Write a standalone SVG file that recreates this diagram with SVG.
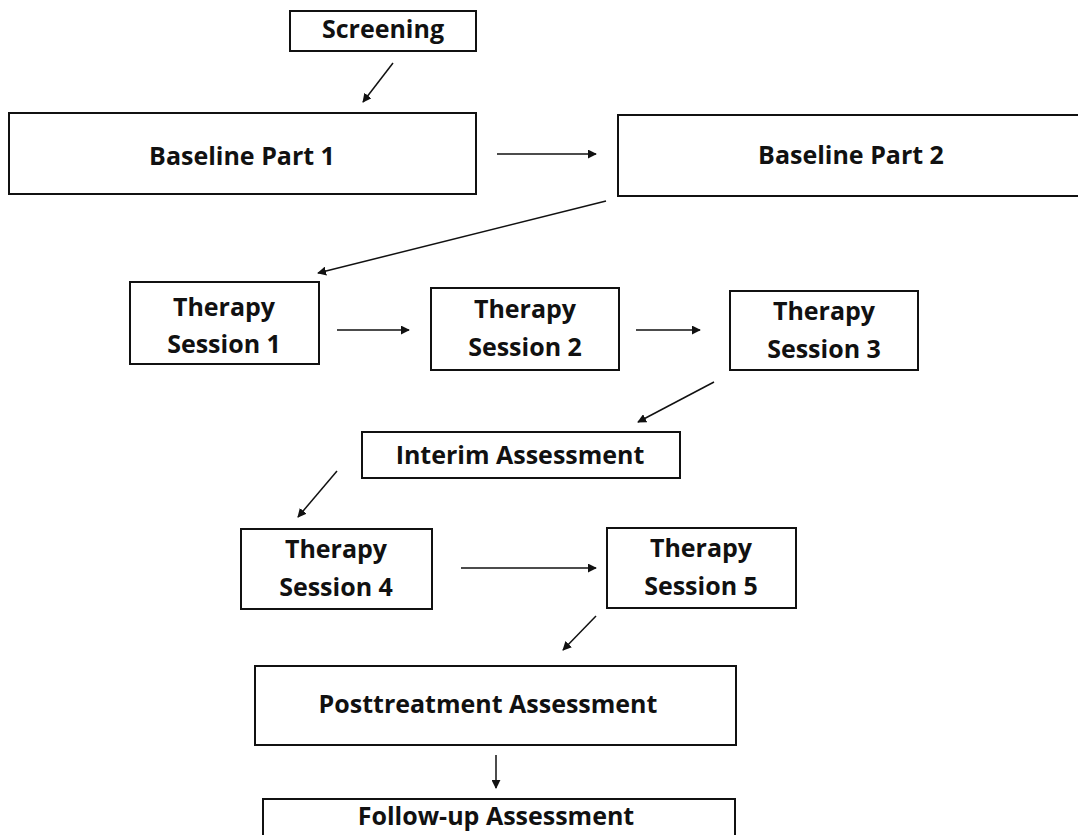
<svg xmlns="http://www.w3.org/2000/svg" width="1078" height="835" viewBox="0 0 1078 835">
<style>
.box{fill:#fff;stroke:#111;stroke-width:2}
.lbl{font-family:"Open Sans","Liberation Sans",sans-serif;font-weight:700;font-size:25px;fill:#111;text-anchor:middle}
.con{stroke:#111;stroke-width:1.5;fill:none;marker-end:url(#ah)}
</style>
<defs>
<marker id="ah" viewBox="0 0 10 10" refX="9" refY="5" markerWidth="6" markerHeight="6" markerUnits="strokeWidth" orient="auto">
<path d="M0,0 L10,5 L0,10 z" fill="#111"/>
</marker>
</defs>
<rect width="1078" height="835" fill="#fff"/>
<g id="connectors">
<line class="con" x1="393" y1="63" x2="363" y2="102"/>
<line class="con" x1="497" y1="154" x2="596" y2="154"/>
<line class="con" x1="606" y1="201" x2="318" y2="273"/>
<line class="con" x1="337" y1="330" x2="409" y2="330"/>
<line class="con" x1="636" y1="330" x2="700" y2="330"/>
<line class="con" x1="714" y1="382" x2="638" y2="422"/>
<line class="con" x1="337" y1="471" x2="298" y2="517"/>
<line class="con" x1="461" y1="568" x2="596" y2="568"/>
<line class="con" x1="596" y1="616" x2="563" y2="650"/>
<line class="con" x1="496" y1="755" x2="496" y2="788"/>
</g>
<g id="screening"><rect class="box" x="290" y="11" width="186" height="40"/><text class="lbl" x="383" y="38">Screening</text></g>
<g id="baseline1"><rect class="box" x="9" y="113" width="467" height="81"/><text class="lbl" x="242" y="165">Baseline Part 1</text></g>
<g id="baseline2"><rect class="box" x="618" y="115" width="466" height="81"/><text class="lbl" x="851" y="164">Baseline Part 2</text></g>
<g id="ts1"><rect class="box" x="130" y="282" width="189" height="82"/><text class="lbl" x="224" y="316">Therapy</text><text class="lbl" x="224" y="353">Session 1</text></g>
<g id="ts2"><rect class="box" x="431" y="288" width="188" height="82"/><text class="lbl" x="525" y="318">Therapy</text><text class="lbl" x="525" y="356">Session 2</text></g>
<g id="ts3"><rect class="box" x="730" y="291" width="188" height="79"/><text class="lbl" x="824" y="320">Therapy</text><text class="lbl" x="824" y="358">Session 3</text></g>
<g id="interim"><rect class="box" x="362" y="432" width="318" height="46"/><text class="lbl" x="520" y="464">Interim Assessment</text></g>
<g id="ts4"><rect class="box" x="241" y="529" width="191" height="80"/><text class="lbl" x="336" y="558">Therapy</text><text class="lbl" x="336" y="596">Session 4</text></g>
<g id="ts5"><rect class="box" x="607" y="528" width="189" height="80"/><text class="lbl" x="701" y="557">Therapy</text><text class="lbl" x="701" y="595">Session 5</text></g>
<g id="posttreatment"><rect class="box" x="255" y="666" width="481" height="79"/><text class="lbl" x="488" y="713">Posttreatment Assessment</text></g>
<g id="followup"><rect class="box" x="263" y="799" width="472" height="60"/><text class="lbl" x="496" y="825">Follow-up Assessment</text></g>
</svg>
